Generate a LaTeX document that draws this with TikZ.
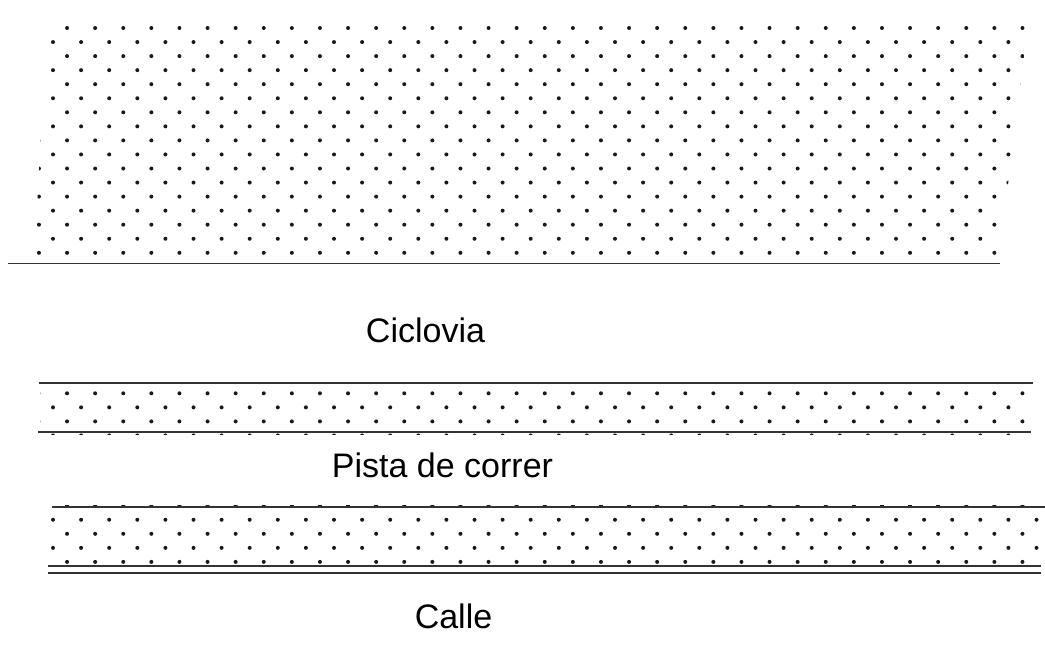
\documentclass[tikz,border=0pt]{standalone}
\usepackage{fontspec}
\setmainfont{Liberation Sans}
\usepackage{tikz}

\begin{document}
\begin{tikzpicture}[x=1pt, y=-1pt]
    \tikzstyle{sand} = [fill=black!90]
    \tikzstyle{rim} = [draw=black!80, line width=1.9pt]
    \tikzstyle{sign} = [font=\fontsize{34}{40}\selectfont, anchor=base, inner sep=0pt]
    \useasboundingbox (0,0) rectangle (1045,651);
    % ciclovia area
    \begin{scope}
        \clip (47,18) -- (1029,18) -- (998,264) -- (34,264) -- cycle;
        \foreach \j in {0,...,16} {
            \foreach \k in {-1,...,35} {
                \fill[sand] ({53+28.1*\k+14.05*mod(\j+1,2)}, {28+14.05*\j}) circle[radius=2pt];
            }
        }
    \end{scope}
    \draw[rim] (8,263.5) -- (1000,263.5);
    \node[sign] (ciclovia) at (425.5,342.5) {Ciclovia};
    % pista de correr
    \begin{scope}
        \clip (40.5,384) rectangle (1030,434.5);
        \foreach \j in {26,...,29} {
            \foreach \k in {-1,...,35} {
                \fill[sand] ({53+28.1*\k+14.05*mod(\j+1,2)}, {28+14.05*\j}) circle[radius=2pt];
            }
        }
    \end{scope}
    \draw[rim] (39,383.3) -- (1033,383.3);
    \draw[rim] (38,432.3) -- (1031,432.3);
    \node[sign] (pista) at (442.5,477.3) {Pista de correr};
    % calle
    \begin{scope}
        \clip (45,505.8) rectangle (1045,565);
        \foreach \j in {34,...,38} {
            \foreach \k in {0,...,36} {
                \fill[sand] ({53+28.1*\k+14.05*mod(\j+1,2)}, {28+14.05*\j}) circle[radius=2pt];
            }
        }
    \end{scope}
    \draw[rim] (52,506.7) -- (1045,506.7);
    \draw[rim] (48,566) -- (1041,566);
    \draw[rim] (48,573.3) -- (1041,573.3);
    \node[sign] (calle) at (453.5,628.3) {Calle};
\end{tikzpicture}
\end{document}
